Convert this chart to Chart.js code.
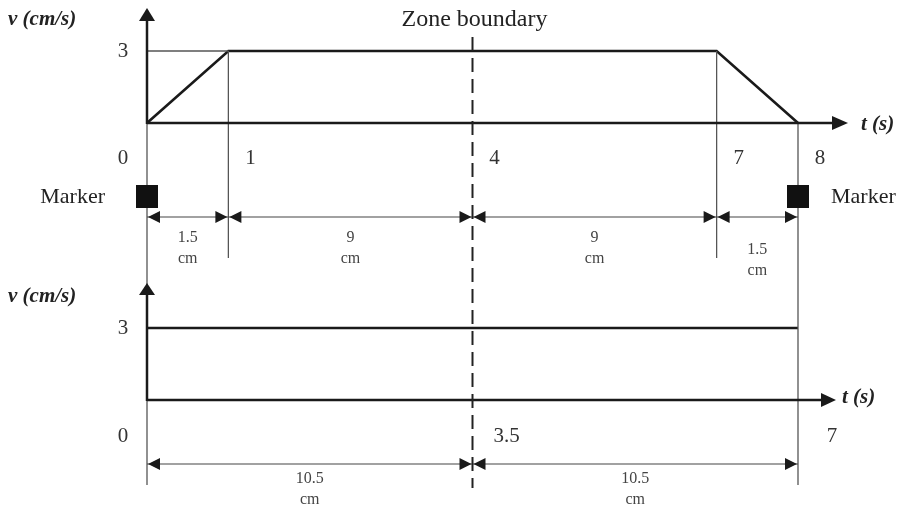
<!DOCTYPE html>
<html>
<head>
<meta charset="utf-8">
<script src="https://cdn.jsdelivr.net/npm/chart.js@4"></script>
<style>
  body { margin: 0; background: #fff; }
  #wrap { width: 906px; height: 513px; position: relative; }
</style>
</head>
<body>
<div id="wrap"><canvas id="chart_Motion"></canvas></div>
<script>
// upper profile: speed up, cruise, slow down
var topTimes = [0, 1, 7, 8];
var topSpeeds = [0, 3, 3, 0];
var topTicks = [0, 1, 4, 7, 8];
var topTickLabels = ["0", "1", "4", "7", "8"];
var topDistances = ["1.5", "9", "9", "1.5"];
var topBoundary = 4;

// lower profile: constant speed
var bottomTimes = [0, 7];
var bottomSpeeds = [3, 3];
var bottomTicks = [0, 3.5, 7];
var bottomTickLabels = ["0", "3.5", "7"];
var bottomDistances = ["10.5", "10.5"];
var bottomBoundary = 3.5;

var speedTick = 3;
var speedTitle = "v (cm/s)";
var timeTitle = "t (s)";
var markerText = "Marker";
var boundaryText = "Zone boundary";
var unitText = "cm";

var H = 513;
var PX_PER_V = 24;
function yRange(zeroPx) {
  return { min: -(H - zeroPx) / PX_PER_V, max: zeroPx / PX_PER_V };
}

function seg(ctx, x1, y1, x2, y2) {
  ctx.beginPath();
  ctx.moveTo(x1, y1);
  ctx.lineTo(x2, y2);
  ctx.stroke();
}

// filled triangle, dir = "up" | "left" | "right"
function head(ctx, x, y, dir, len, half) {
  ctx.beginPath();
  ctx.moveTo(x, y);
  if (dir == "up") { ctx.lineTo(x - half, y + len); ctx.lineTo(x + half, y + len); }
  if (dir == "right") { ctx.lineTo(x - len, y - half); ctx.lineTo(x - len, y + half); }
  if (dir == "left") { ctx.lineTo(x + len, y - half); ctx.lineTo(x + len, y + half); }
  ctx.closePath();
  ctx.fill();
}

function text(ctx, str, x, y, font, color, align) {
  ctx.font = font;
  ctx.fillStyle = color;
  ctx.textAlign = align || "center";
  ctx.textBaseline = "middle";
  ctx.fillText(str, x, y);
}

function dimensions(ctx, xs, ticks, labels, y, ly1, ly2, lastDrop) {
  ctx.lineWidth = 1.2;
  for (var i = 0; i < labels.length; i++) {
    var a = xs.getPixelForValue(ticks[i]);
    var b = xs.getPixelForValue(ticks[i + 1]);
    ctx.strokeStyle = "#444";
    seg(ctx, a, y, b, y);
    ctx.fillStyle = "#1a1a1a";
    head(ctx, a + 1, y, "left", 12, 6);
    head(ctx, b - 1, y, "right", 12, 6);
    var drop = (i == labels.length - 1) ? lastDrop : 0;
    var mid = (a + b) / 2;
    text(ctx, labels[i], mid, ly1 + drop, "16px 'Liberation Serif'", "#444");
    text(ctx, unitText, mid, ly2 + drop, "16px 'Liberation Serif'", "#444");
  }
}

var diagramPlugin = {
  id: "diagram",
  beforeDraw: function (chart) {
    var ctx = chart.ctx;
    ctx.save();
    ctx.fillStyle = "#fff";
    ctx.fillRect(0, 0, chart.width, chart.height);
    ctx.restore();
  },
  afterDatasetsDraw: function (chart) {
    var ctx = chart.ctx;
    var xT = chart.scales.xTop, yT = chart.scales.yTop;
    var xB = chart.scales.xBottom, yB = chart.scales.yBottom;
    var numFont = "21px 'Liberation Serif'";
    var titleFont = "bold italic 21px 'Liberation Serif'";
    ctx.save();

    // ---- upper panel
    var x0 = xT.getPixelForValue(0);
    var y0 = yT.getPixelForValue(0);
    var y3 = yT.getPixelForValue(speedTick);
    var xEnd = xT.getPixelForValue(topTicks[topTicks.length - 1]);

    ctx.strokeStyle = "#555";
    ctx.lineWidth = 1.3;
    seg(ctx, x0, y3, xT.getPixelForValue(topTimes[1]), y3);
    seg(ctx, xT.getPixelForValue(topTimes[1]), y3, xT.getPixelForValue(topTimes[1]), 258);
    seg(ctx, xT.getPixelForValue(topTimes[2]), y3, xT.getPixelForValue(topTimes[2]), 258);
    seg(ctx, x0, y0, x0, 485);
    seg(ctx, xEnd, y0, xEnd, 485);

    ctx.strokeStyle = "#1a1a1a";
    ctx.fillStyle = "#1a1a1a";
    ctx.lineWidth = 2.5;
    seg(ctx, x0, y0 + 1, x0, 18);
    head(ctx, x0, 8, "up", 13, 8);
    seg(ctx, x0, y0, 834, y0);
    head(ctx, 848, y0, "right", 16, 7);

    text(ctx, speedTitle, 8, 20, titleFont, "#222", "left");
    text(ctx, timeTitle, 861, y0 + 2, titleFont, "#222", "left");
    text(ctx, String(speedTick), x0 - 24, y3, numFont, "#333");
    for (var i = 0; i < topTicks.length; i++) {
      var px = xT.getPixelForValue(topTicks[i]);
      text(ctx, topTickLabels[i], i == 0 ? px - 24 : px + 22, 158, numFont, "#333");
    }

    // markers at both ends
    ctx.fillStyle = "#111";
    ctx.fillRect(x0 - 11, 185, 22, 23);
    ctx.fillRect(xEnd - 11, 185, 22, 23);
    text(ctx, markerText, x0 - 42, 197, "22px 'Liberation Serif'", "#222", "right");
    text(ctx, markerText, xEnd + 33, 197, "22px 'Liberation Serif'", "#222", "left");

    dimensions(ctx, xT, topTicks, topDistances, 217, 238, 259, 12);

    // ---- lower panel
    var bx0 = xB.getPixelForValue(0);
    var by0 = yB.getPixelForValue(0);
    var by3 = yB.getPixelForValue(speedTick);

    ctx.strokeStyle = "#1a1a1a";
    ctx.fillStyle = "#1a1a1a";
    ctx.lineWidth = 2.5;
    seg(ctx, bx0, by0 + 1, bx0, 293);
    head(ctx, bx0, 283, "up", 12, 8);
    seg(ctx, bx0, by0, 822, by0);
    head(ctx, 836, by0, "right", 15, 7);

    text(ctx, speedTitle, 8, 297, titleFont, "#222", "left");
    text(ctx, timeTitle, 842, by0 - 2, titleFont, "#222", "left");
    text(ctx, String(speedTick), bx0 - 24, by3, numFont, "#333");
    for (var j = 0; j < bottomTicks.length; j++) {
      var bpx = xB.getPixelForValue(bottomTicks[j]);
      text(ctx, bottomTickLabels[j], j == 0 ? bpx - 24 : bpx + 34, 436, numFont, "#333");
    }

    dimensions(ctx, xB, bottomTicks, bottomDistances, 464, 479, 500, 0);

    // ---- zone boundary across both panels
    var zx = xT.getPixelForValue(topBoundary);
    ctx.strokeStyle = "#222";
    ctx.lineWidth = 2;
    ctx.setLineDash([14, 7]);
    seg(ctx, zx, 37, zx, 488);
    ctx.setLineDash([]);
    text(ctx, boundaryText, zx + 2, 20, "24px 'Liberation Serif'", "#222");

    ctx.restore();
  }
};

var topRange = yRange(123);
var bottomRange = yRange(400);

new Chart(document.getElementById("chart_Motion"), {
  type: "line",
  data: {
    datasets: [{
      label: "upper",
      data: topTimes.map(function (t, i) { return { x: t, y: topSpeeds[i] }; }),
      xAxisID: "xTop",
      yAxisID: "yTop",
      borderColor: "#1a1a1a",
      borderWidth: 2.6,
      pointRadius: 0,
      tension: 0,
      clip: false
    }, {
      label: "lower",
      data: bottomTimes.map(function (t, i) { return { x: t, y: bottomSpeeds[i] }; }),
      xAxisID: "xBottom",
      yAxisID: "yBottom",
      borderColor: "#1a1a1a",
      borderWidth: 2.6,
      pointRadius: 0,
      tension: 0,
      clip: false
    }]
  },
  options: {
    responsive: true,
    maintainAspectRatio: false,
    animation: false,
    layout: { padding: { left: 147, right: 108, top: 0, bottom: 0 } },
    plugins: { legend: { display: false }, tooltip: { enabled: false } },
    scales: {
      xTop: { type: "linear", display: false, min: 0, max: topTicks[topTicks.length - 1] },
      xBottom: { type: "linear", display: false, min: 0, max: bottomTicks[bottomTicks.length - 1] },
      yTop: { type: "linear", display: false, min: topRange.min, max: topRange.max },
      yBottom: { type: "linear", display: false, min: bottomRange.min, max: bottomRange.max }
    }
  },
  plugins: [diagramPlugin]
});
</script>
</body>
</html>
